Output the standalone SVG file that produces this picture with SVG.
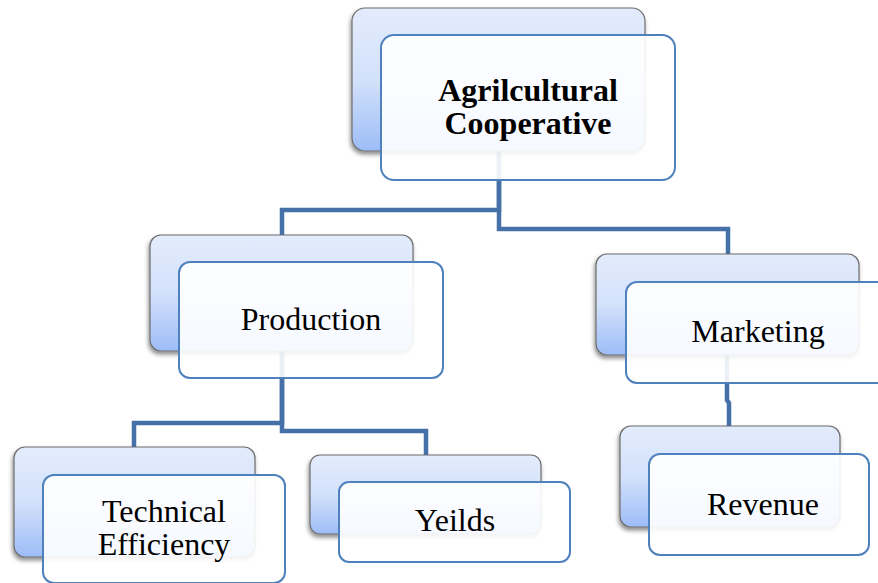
<svg xmlns="http://www.w3.org/2000/svg" width="878" height="583" viewBox="0 0 878 583">
  <defs>
    <linearGradient id="backFill" x1="0" y1="0" x2="0" y2="1">
      <stop offset="0" stop-color="#e3ecfc"/>
      <stop offset="0.5" stop-color="#d3e1fb"/>
      <stop offset="1" stop-color="#9dbdf7"/>
    </linearGradient>
    <filter id="shadow" x="-10%" y="-10%" width="125%" height="130%">
      <feDropShadow dx="-1" dy="3" stdDeviation="2.2" flood-color="#000" flood-opacity="0.45"/>
    </filter>
  </defs>
  <style>
    .back { fill: url(#backFill); stroke: #6d6d6d; stroke-width: 1.2; filter: url(#shadow); }
    .front { fill: #ffffff; fill-opacity: 0.9; stroke: #4f81bd; stroke-width: 2; }
    .link { fill: none; stroke: #4570a8; stroke-width: 4.5; stroke-linejoin: miter; }
    .label { font-family: "Liberation Serif", "Times New Roman", serif; font-size: 32px; fill: #000; text-anchor: middle; }
    .bold { font-weight: bold; }
  </style>

  <rect width="878" height="583" fill="#ffffff"/>

  <!-- connectors -->
  <g id="connectors">
    <path class="link" d="M499,150 V210 H282 V236"/>
    <path class="link" d="M499,150 V229 H728 V255"/>
    <path class="link" d="M282,350 V423 H134 V448"/>
    <path class="link" d="M282,350 V431 H426 V456"/>
    <path class="link" d="M727,354 V400 L729,403 V427"/>
  </g>

  <!-- Agrilcultural Cooperative -->
  <g id="node-cooperative">
    <rect class="back" x="352" y="8" width="293" height="143" rx="13"/>
    <rect class="front" x="381" y="35" width="294" height="145" rx="13"/>
    <text class="label bold" x="528" y="101">Agrilcultural</text>
    <text class="label bold" x="528" y="134">Cooperative</text>
  </g>

  <!-- Production -->
  <g id="node-production">
    <rect class="back" x="150" y="235" width="263" height="116" rx="11"/>
    <rect class="front" x="179" y="262" width="264" height="116" rx="11"/>
    <text class="label" x="311" y="330">Production</text>
  </g>

  <!-- Marketing -->
  <g id="node-marketing">
    <rect class="back" x="596" y="254" width="263" height="101" rx="11"/>
    <rect class="front" x="626" y="282" width="266" height="101" rx="11"/>
    <text class="label" x="758" y="342">Marketing</text>
  </g>

  <!-- Technical Efficiency -->
  <g id="node-technical">
    <rect class="back" x="14" y="447" width="241" height="110" rx="11"/>
    <rect class="front" x="43" y="475" width="242" height="108" rx="11"/>
    <text class="label" x="164" y="522">Technical</text>
    <text class="label" x="164" y="555">Efficiency</text>
  </g>

  <!-- Yeilds -->
  <g id="node-yeilds">
    <rect class="back" x="310" y="455" width="231" height="79" rx="10"/>
    <rect class="front" x="339" y="482" width="231" height="80" rx="10"/>
    <text class="label" x="455" y="531">Yeilds</text>
  </g>

  <!-- Revenue -->
  <g id="node-revenue">
    <rect class="back" x="620" y="426" width="220" height="101" rx="11"/>
    <rect class="front" x="649" y="454" width="220" height="101" rx="11"/>
    <text class="label" x="763" y="515">Revenue</text>
  </g>
</svg>
